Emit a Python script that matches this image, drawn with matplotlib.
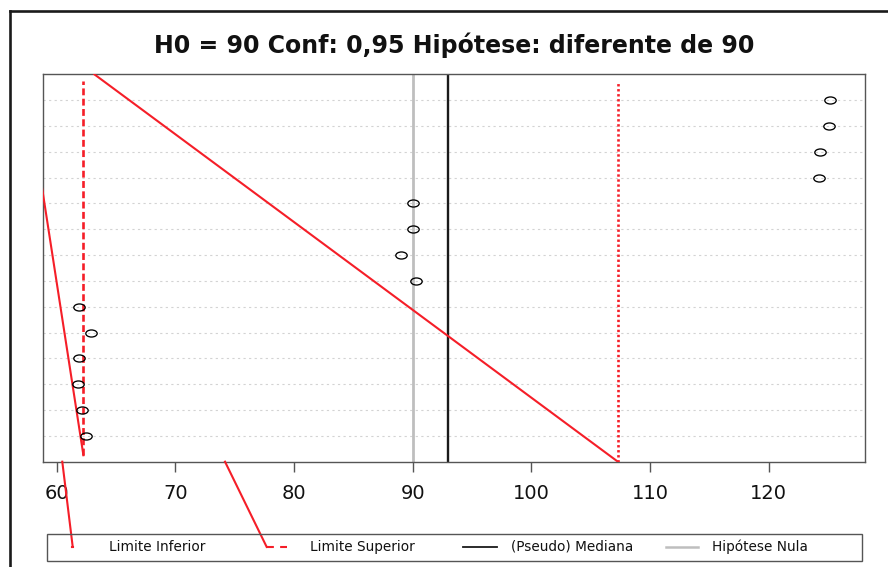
import matplotlib
matplotlib.use("Agg")
import matplotlib.pyplot as plt
from matplotlib.path import Path
from matplotlib.transforms import Affine2D
from matplotlib.lines import Line2D
from matplotlib.patches import Rectangle

# ---------------- data ----------------
title_text = "H0 = 90 Conf: 0,95 Hipótese: diferente de 90"
row_ids = list(range(1, 15))
row_values = [62.43, 62.1, 61.8, 61.9, 62.9, 61.9, 90.26, 89.02, 90.0, 90.0,
              124.2, 124.35, 125.03, 125.15]
h0_value = 90.0
median_value = 93.0
ci_lower = 62.25
ci_upper = 107.28
ci_lower_span = [0.25, 14.75]
ci_upper_span = [0.0, 14.75]
x_ticks = [60, 70, 80, 90, 100, 110, 120]
legend_labels = ["Limite Inferior", "Limite Superior", "(Pseudo) Mediana", "Hipótese Nula"]

# stray red segments present in the original rendering (data units)
stray_a_x = [62.25, 56.95]
stray_a_y = [0.25, 16.0]
stray_b_x = [107.28, 63.17]
stray_b_y = [0.0, 15.0]
stray_c_x = [60.47, 61.35]
stray_c_y = [0.0, -3.30]
stray_d_x = [74.18, 77.69]
stray_d_y = [0.0, -3.30]

RED = "#F51E28"
GRAY = "#BEBEBE"
FRAME = "#555555"

W, H = 888, 567
fig = plt.figure(figsize=(W / 100, H / 100), dpi=100)
plt.rcParams['font.family'] = ['DejaVu Sans']


def fx(px):
    return px / W


def fy(py):
    return 1 - py / H


ax = fig.add_axes([fx(42.7), fy(461.7), fx(865) - fx(42.7), fy(74.3) - fy(461.7)])
ax.set_xlim(58.82, 128.1)
ax.set_ylim(0, 15)

# dotted row guides
for r in row_ids:
    ax.axhline(r, color="#D3D3D3", lw=0.8, dashes=(2, 3), zorder=1)

# reference lines
ax.axvline(h0_value, color=GRAY, lw=2.0, zorder=2)
ax.axvline(median_value, color="#1A1A1A", lw=1.7, zorder=2)
ax.plot([ci_lower, ci_lower], ci_lower_span, color=RED, lw=1.9, dashes=(2.6, 1.3), zorder=3)
ax.plot([ci_upper, ci_upper], ci_upper_span, color=RED, lw=1.9, dashes=(0.9, 1.0), zorder=3)

# stray segments
ax.plot(stray_a_x, stray_a_y, color=RED, lw=1.5, zorder=3)
ax.plot(stray_b_x, stray_b_y, color=RED, lw=1.5, zorder=3)
ax.plot(stray_c_x, stray_c_y, color=RED, lw=1.5, zorder=3, clip_on=False)
ax.plot(stray_d_x, stray_d_y, color=RED, lw=1.5, zorder=3, clip_on=False)

# points (slightly flattened circles)
ell = Path.unit_circle().transformed(Affine2D().scale(1.0, 0.62))
ax.plot(row_values, row_ids, ls="none", marker=ell, ms=8.2, mfc="none",
        mec="black", mew=0.95, zorder=4)

# axes styling
for s in ax.spines.values():
    s.set_color(FRAME)
    s.set_linewidth(1.0)
ax.set_yticks([])
ax.set_xticks(x_ticks)
ax.set_xticklabels([str(t) for t in x_ticks])
ax.tick_params(axis="x", length=7.5, width=1.0, color=FRAME, labelsize=14,
               pad=8.5, labelcolor="#111111")

# title
fig.text(fx(453.9), fy(45), title_text, ha="center", va="center",
         fontsize=17, fontweight="bold", color="#111111")

# outer frame (left and top)
fig.add_artist(Line2D([fx(9.7), fx(9.7)], [0, fy(11.3)], transform=fig.transFigure,
                      color="#1A1A1A", lw=1.9))
fig.add_artist(Line2D([fx(9.7), 1], [fy(11.3), fy(11.3)], transform=fig.transFigure,
                      color="#1A1A1A", lw=1.9))

# legend box
fig.add_artist(Rectangle((fx(46.7), fy(560.7)), fx(861.7) - fx(46.7), fy(534.3) - fy(560.7),
                         transform=fig.transFigure, fill=False, edgecolor=FRAME, lw=1.0))
ly = fy(547)
sym_specs = [
    dict(x=[72.0, 73.0], color=RED, lw=1.5, ls="-"),
    dict(x=[266.7, 290.0], color=RED, lw=1.5, ls=(0, (3.3, 3.0))),
    dict(x=[463.0, 497.0], color="#1A1A1A", lw=1.3, ls="-"),
    dict(x=[666.0, 698.0], color=GRAY, lw=1.8, ls="-"),
]
text_x = [109, 310, 511, 712]
for spec, lab, tx in zip(sym_specs, legend_labels, text_x):
    fig.add_artist(Line2D([fx(spec["x"][0]), fx(spec["x"][1])], [ly, ly],
                          transform=fig.transFigure, color=spec["color"],
                          lw=spec["lw"], linestyle=spec["ls"]))
    fig.text(fx(tx), ly, lab, ha="left", va="center", fontsize=9.8, color="#111111")

fig.savefig("out.png", dpi=100)
